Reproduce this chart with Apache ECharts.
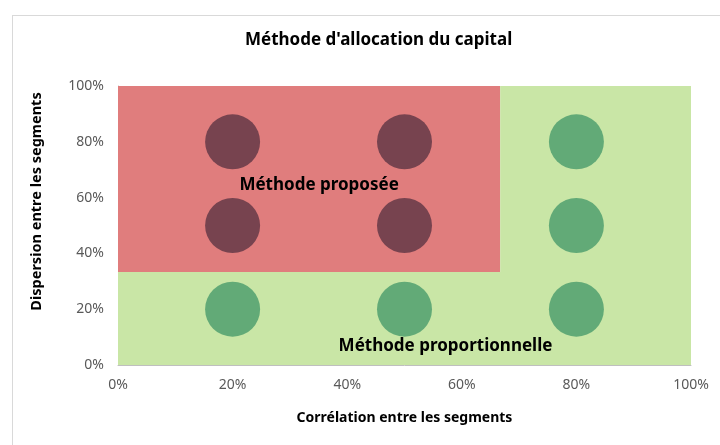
<!DOCTYPE html>
<html>
<head>
<meta charset="utf-8">
<script src="https://cdn.jsdelivr.net/npm/echarts@6/dist/echarts.min.js"></script>
<style>
  html, body { margin: 0; padding: 0; background: #fff; }
  #frame { position: absolute; left: 12px; top: 15px; width: 720px; height: 440px; border: 1px solid #d9d9d9; }
  #chart { width: 720px; height: 445px; }
</style>
</head>
<body>
<div id="frame"></div>
<div id="chart"></div>
<script>
// axis ticks (percent)
var ticks = [0, 20, 40, 60, 80, 100]

// points of the proposed method
var proposedX = [20, 50, 20, 50]
var proposedY = [80, 80, 50, 50]

// points of the proportional method
var proportionalX = [80, 80, 20, 50, 80]
var proportionalY = [80, 50, 20, 20, 20]

// zones: [xFrom, yFrom, xTo, yTo]
var zoneProposed = [0, 33.3, 66.7, 100]
var zoneProportionalTop = [66.7, 33.3, 100, 100.8]
var zoneProportionalBottom = [0, 0, 100, 33.3]

var font = 'Noto Sans'

function pairs(xs, ys) {
  return xs.map(function(x, i) { return [x, ys[i]] })
}

function area(z, name, label) {
  return [{ name: name, coord: [z[0], z[1]], label: label }, { coord: [z[2], z[3]] }]
}

var chart = echarts.init(document.getElementById('chart'))
chart.setOption({
  animation: false,
  title: {
    text: "Méthode d'allocation du capital",
    left: 240,
    top: 27,
    textStyle: { fontFamily: font, fontSize: 17, fontWeight: 'bold', color: '#000' }
  },
  grid: {
    left: 118,
    right: 29,
    top: 86,
    bottom: 80
  },
  xAxis: {
    type: 'value',
    min: 0,
    max: 100,
    interval: 20,
    name: 'Corrélation entre les segments',
    nameLocation: 'middle',
    nameGap: 46,
    nameTextStyle: { fontFamily: font, fontSize: 14, fontWeight: 'bold', color: '#000' },
    axisLine: { show: true, lineStyle: { color: '#bfbfbf', width: 1 } },
    axisTick: { show: false },
    splitLine: { show: false },
    axisLabel: {
      fontFamily: font, fontSize: 14, color: '#595959', margin: 13,
      formatter: function(v) { return v + '%' }
    }
  },
  yAxis: {
    type: 'value',
    min: 0,
    max: 100,
    interval: 20,
    name: 'Dispersion entre les segments',
    nameLocation: 'middle',
    nameGap: 74,
    nameTextStyle: { fontFamily: font, fontSize: 14.5, fontWeight: 'bold', color: '#000', padding: [0, 0, 0, 48] },
    axisLine: { show: true, lineStyle: { color: '#bfbfbf', width: 1 } },
    axisTick: { show: false },
    splitLine: { show: false },
    axisLabel: {
      fontFamily: font, fontSize: 14, color: '#595959', margin: 14,
      formatter: function(v) { return v + '%' }
    }
  },
  series: [
    {
      name: 'zones',
      type: 'scatter',
      data: [],
      silent: true,
      markArea: {
        silent: true,
        data: [
          area(zoneProposed, 'Méthode proposée', {
            show: true, position: 'inside', offset: [10, 6],
            fontFamily: font, fontSize: 17, fontWeight: 'bold', color: '#000'
          }),
          area(zoneProportionalTop, '', { show: false }),
          area(zoneProportionalBottom, 'Méthode proportionnelle', {
            show: true, position: 'inside', offset: [41, 28],
            fontFamily: font, fontSize: 17, fontWeight: 'bold', color: '#000'
          })
        ].map(function(d, i) {
          d[0].itemStyle = { color: i === 0 ? '#e07d7d' : '#c9e6a6', opacity: 1 }
          return d
        })
      }
    },
    {
      name: 'Méthode proposée',
      type: 'scatter',
      symbolSize: 55,
      data: pairs(proposedX, proposedY),
      itemStyle: { color: '#77434f', opacity: 1 }
    },
    {
      name: 'Méthode proportionnelle',
      type: 'scatter',
      symbolSize: 55,
      data: pairs(proportionalX, proportionalY),
      itemStyle: { color: '#62aa77', opacity: 1 }
    }
  ]
})
</script>
</body>
</html>
